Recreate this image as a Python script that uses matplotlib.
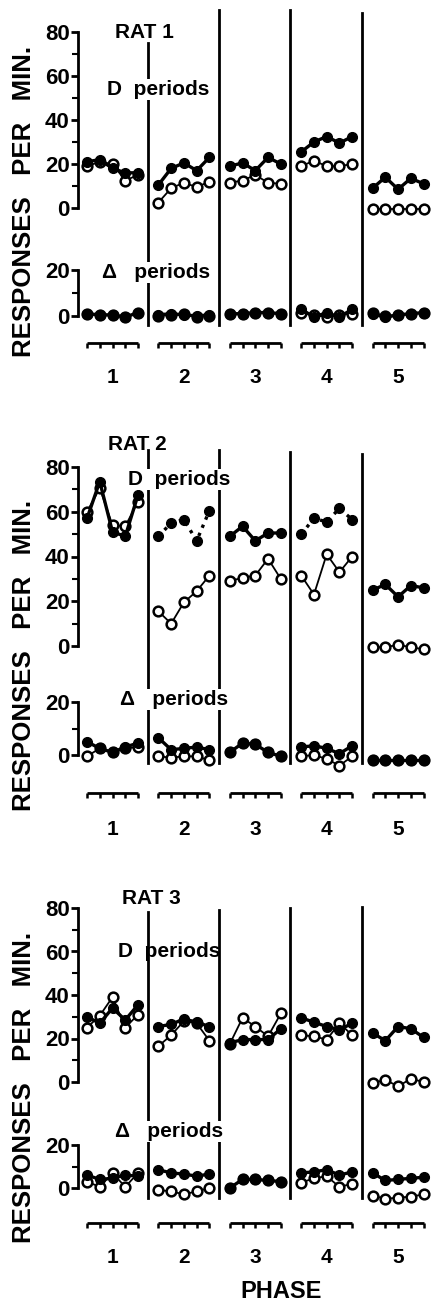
import matplotlib.pyplot as plt
from matplotlib.transforms import blended_transform_factory

plt.rcParams['font.family'] = ['Liberation Sans', 'DejaVu Sans']
plt.rcParams['font.weight'] = 'bold'

W, H = 437, 1301

phases = ['1', '2', '3', '4', '5']
sessions = [0, 1, 2, 3, 4]

# responses per min, five sessions in each phase
rat1_d_filled = [[21, 22, 18, 16, 16], [10.5, 18, 20.5, 17, 23], [19, 20.5, 17, 23, 20],
                 [25.5, 30, 32.5, 29.5, 32.5], [9, 14, 8.5, 13.5, 11]]
rat1_d_open = [[19, 21, 20, 12.5, 15], [2.5, 9, 11.5, 9.5, 12], [11.5, 12.5, 15, 11.5, 11],
               [19, 21.5, 19, 19, 20], [-0.5, -0.5, -0.5, -0.5, -0.5]]
rat1_delta_filled = [[1, 0.5, 0.5, -0.5, 1.5], [0.5, 1, 0.5, 0, 0.5], [1, 1, 1.5, 1.5, 1],
                     [3, -0.5, 1.5, -0.5, 3], [1, -0.5, 0.5, 1, 1.5]]
rat1_delta_open = [[1, 0.5, 0.5, -0.5, 1.5], [0, 0.5, 1, -0.5, 0], [1, 1, 1.5, 1.5, 1],
                   [1.5, 0.5, -0.5, 0.5, 1], [1.5, 0, 0.5, 1, 1.5]]

rat2_d_filled = [[57, 73.5, 51, 49, 67.5], [49, 55, 56.5, 47, 60.5], [49, 53.5, 47, 50.5, 50.5],
                 [50, 57, 55.5, 61.5, 56.5], [25, 27.5, 22, 27, 26]]
rat2_d_open = [[60, 70.5, 54, 53.5, 64.5], [15.5, 10, 19.5, 24.5, 31.5], [29, 30.5, 31.5, 39, 30],
               [31.5, 23, 41, 33, 40], [-0.5, -0.5, 0.5, -0.5, -1.5]]
rat2_delta_filled = [[5, 2.5, 1, 3, 4.5], [6.5, 2, 2.5, 3, 2], [1, 4.5, 4, 1, -0.5],
                     [3, 3.5, 2.5, 0.5, 3.5], [-2, -2, -2, -2, -2]]
rat2_delta_open = [[-0.5, 2.5, 1, 2.5, 3], [-0.5, -1, -0.5, -0.5, -2], [1, 4.5, 4, 1, -0.5],
                   [-0.5, 0, -1.5, -4, -0.5], [-2, -2, -2, -2, -2]]

rat3_d_filled = [[30, 27, 34, 28.5, 35.5], [25.5, 26.5, 29, 27.5, 25.5], [18, 19.5, 19.5, 19.5, 24.5],
                 [29.5, 27.5, 25.5, 24, 27], [22.5, 19, 25.5, 24.5, 20.5]]
rat3_d_open = [[25, 30.5, 39, 25, 31], [16.5, 21.5, 28, 27, 19], [17.5, 29.5, 25.5, 21, 31.5],
               [21.5, 21, 19.5, 27, 21.5], [-0.5, 1, -2, 1.5, 0]]
rat3_delta_filled = [[6, 4, 4.5, 6, 5.5], [8.5, 7, 6.5, 5.5, 6.5], [0, 4, 4, 3.5, 3],
                     [7, 7.5, 8.5, 6, 7.5], [7, 3.5, 4, 4.5, 5]]
rat3_delta_open = [[3, 0.5, 7, 0.5, 7], [-1, -1.5, -3, -1.5, 0], [0, 4, 4, 3.5, 3],
                   [2.5, 4.5, 5.5, 0.5, 2], [-3.5, -5, -4.5, -4, -3]]

# layout in pixels of the 437x1301 picture
rats = [
    dict(name='RAT 1', d_fill=rat1_d_filled, d_open=rat1_d_open,
         z_fill=rat1_delta_filled, z_open=rat1_delta_open,
         d0=208, d80=32, z0=316, z20=270, sep_top=[75, 90, 90, 88.5], sep_bot=-4,
         title=(115, 38), dtext=(107, 95), ztext=(102, 278), comb=343, num=383,
         ylab=201, mask=True, styles=['-'] * 5),
    dict(name='RAT 2', d_fill=rat2_d_filled, d_open=rat2_d_open,
         z_fill=rat2_delta_filled, z_open=rat2_delta_open,
         d0=646, d80=467, z0=755, z20=702, sep_top=[87.5, 87.5, 86.5, 86], sep_bot=-3,
         title=(108, 450), dtext=(128, 485), ztext=(120, 705), comb=793, num=835,
         ylab=655, mask=True, styles=['-', ':', '-', ':', '-']),
    dict(name='RAT 3', d_fill=rat3_d_filled, d_open=rat3_d_open,
         z_fill=rat3_delta_filled, z_open=rat3_delta_open,
         d0=1082, d80=908, z0=1188, z20=1145, sep_top=[78, 79, 80, 80.5], sep_bot=-4.7,
         title=(122, 904), dtext=(118, 957), ztext=(115, 1137), comb=1223, num=1263,
         ylab=1087, mask=False, styles=['-'] * 5),
]


def fx(px):
    return px / W


def fy(px):
    return 1 - px / H


def xpos(p, i):
    return 5.6 * p + i


def px_of_x(x):
    return 87 + 12.75 * x


XLIM = ((78 - 87) / 12.75, (437 - 87) / 12.75)


def style_axis(ax, top, minor):
    for side in ['top', 'right', 'bottom']:
        ax.spines[side].set_visible(False)
    ax.spines['left'].set_bounds(0, top)
    ax.spines['left'].set_linewidth(2)
    ax.set_xticks([])
    ax.set_yticks(list(range(0, top + 1, 20)))
    ax.set_yticks(minor, minor=True)
    ax.tick_params(axis='y', which='major', direction='out', length=5, width=2, pad=1, labelsize=16)
    ax.tick_params(axis='y', which='minor', direction='out', length=4, width=1.5)
    ax.patch.set_visible(False)
    ax.set_xlim(*XLIM)


fig = plt.figure(figsize=(W / 100, H / 100), dpi=100)
bbox = dict(facecolor='white', edgecolor='none', pad=1)

for r in rats:
    s = (r['d0'] - r['d80']) / 80
    top_px, bot_px = r['d0'] - 92 * s, r['d0'] + 8 * s
    ax_d = fig.add_axes([fx(78), fy(bot_px), fx(437) - fx(78), (bot_px - top_px) / H])
    ax_d.set_ylim(-8, 92)
    style_axis(ax_d, 80, [10, 30, 50, 70])

    sz = (r['z0'] - r['z20']) / 20
    ztop, zbot = r['z0'] - 24 * sz, r['z0'] + 7 * sz
    ax_z = fig.add_axes([fx(78), fy(zbot), fx(437) - fx(78), (zbot - ztop) / H])
    ax_z.set_ylim(-7, 24)
    style_axis(ax_z, 20, [10])

    for p in range(5):
        xs = [xpos(p, i) for i in sessions]
        for ax, op, fl in [(ax_d, r['d_open'], r['d_fill']), (ax_z, r['z_open'], r['z_fill'])]:
            ax.plot(xs, op[p], '-', color='black', lw=1.3, marker='o', ms=7,
                    mfc='white', mec='black', mew=1.8, zorder=3, clip_on=False)
            ax.plot(xs, fl[p], linestyle=r['styles'][p] if ax is ax_d else '-', color='black',
                    lw=2.4, marker='o', ms=7, mfc='black', mec='black', zorder=4, clip_on=False)

        # comb under each phase
        tz = blended_transform_factory(ax_z.transData, fig.transFigure)
        ax_z.plot([xs[0], xs[-1]], [fy(r['comb']), fy(r['comb'])], transform=tz,
                  color='black', lw=2, clip_on=False, solid_capstyle='butt')
        ax_z.vlines(xs, fy(r['comb'] + 5), fy(r['comb']), transform=tz,
                    color='black', lw=1.8, clip_on=False)
        fig.text(fx(px_of_x(xpos(p, 2))), fy(r['num']), phases[p],
                 ha='center', va='baseline', fontsize=15)

    # phase separators
    td = blended_transform_factory(ax_d.transData, fig.transFigure)
    for p in range(4):
        xsep = xpos(p, 4.75)
        ax_d.plot([xsep, xsep], [fy(r['z0'] - r['sep_bot'] * sz), fy(r['d0'] - r['sep_top'][p] * s)],
                  transform=td, color='black', lw=2, clip_on=False, zorder=1)

    fig.text(fx(r['title'][0]), fy(r['title'][1]), r['name'], ha='left', va='baseline', fontsize=15)
    fig.text(fx(r['dtext'][0]), fy(r['dtext'][1]), 'D  periods', ha='left', va='baseline',
             fontsize=15, bbox=bbox if r['mask'] else None)
    fig.text(fx(r['ztext'][0]), fy(r['ztext'][1]), 'Δ   periods', ha='left', va='baseline',
             fontsize=15, bbox=bbox)
    fig.text(fx(24), fy(r['ylab']), 'RESPONSES   PER   MIN.', rotation=90,
             ha='center', va='center', fontsize=18.5)

fig.text(fx(281), fy(1298), 'PHASE', ha='center', va='baseline', fontsize=17)

fig.savefig('out.png', dpi=100)
